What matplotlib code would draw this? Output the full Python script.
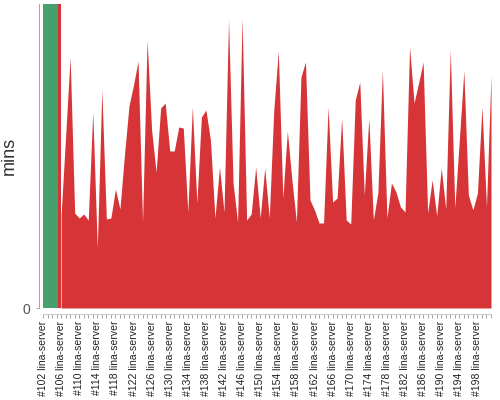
import numpy as np
import matplotlib.pyplot as plt

plt.rcParams['font.family'] = ['Liberation Sans', 'DejaVu Sans']

# build numbers and durations (mins)
builds = list(range(106, 202))
durations = [
    9.3, 17.2, 25.1, 9.5, 9.0, 9.4, 8.8, 19.6, 6.0, 21.8,
    8.9, 9.0, 11.9, 9.9, 15.3, 20.2, 22.3, 24.7, 8.6, 26.8,
    17.8, 13.6, 20.0, 20.5, 15.7, 15.7, 18.1, 18.0, 9.6, 20.1,
    10.5, 19.1, 19.8, 16.8, 9.0, 14.1, 9.6, 28.8, 12.5, 8.6,
    29.0, 8.8, 9.4, 14.1, 9.0, 14.0, 9.0, 19.8, 25.7, 11.0,
    17.7, 12.8, 8.6, 23.1, 24.6, 10.8, 9.8, 8.5, 8.5, 20.1,
    10.6, 11.0, 19.0, 8.8, 8.4, 20.8, 22.6, 11.3, 19.0, 8.8,
    11.5, 23.8, 9.0, 12.5, 11.6, 10.1, 9.6, 26.1, 20.5, 22.5,
    24.6, 9.5, 12.8, 9.2, 14.0, 9.9, 25.8, 10.0, 16.8, 23.7,
    11.3, 9.8, 11.5, 20.1, 10.1, 23.3,
]
y_max = 30.4

# leading spans that reach the top of the chart
success_span = [102, 105.3]
failed_span = [105.3, 106]

all_builds = list(range(102, 202))
tick_builds = list(range(102, 202, 4))
tick_labels = [f"#{b} lina-server" for b in tick_builds]

green = '#46a06e'
red = '#d63436'

fig = plt.figure(figsize=(5, 4), dpi=100)
ax = fig.add_axes([0.086, 0.23, 0.896, 0.76])

# spines first: moving them resets the ticks
for side in ['top', 'right']:
    ax.spines[side].set_visible(False)
ax.spines['left'].set_position(('outward', 3))
ax.spines['left'].set_color('#aaaaaa')
ax.spines['bottom'].set_position(('outward', 4))
ax.spines['bottom'].set_color('#cccccc')

ax.fill_between(success_span, [y_max, y_max], 0, color=green, lw=0)
ax.fill_between(failed_span, [y_max, y_max], 0, color=red, lw=0)
ax.fill_between(builds, durations, 0, color=red, lw=0)

ax.set_xlim(102, 201)
ax.set_ylim(0, y_max)

ax.set_yticks([0])
ax.set_yticklabels(["0"])
ax.set_xticks(tick_builds)
ax.set_xticklabels(tick_labels)
ax.set_xticks(all_builds, minor=True)

ax.tick_params(axis='x', which='both', length=3, width=0.6, color='#999999')
ax.tick_params(axis='x', which='major', labelsize=7.5, labelcolor='#222222',
               labelrotation=90, pad=2)
ax.tick_params(axis='y', length=2, width=0.6, color='#999999', pad=4,
               labelsize=10, labelcolor='#555555')

ax.set_ylabel("mins", fontsize=13, color='#333333')
ax.yaxis.set_label_coords(-0.056, 0.5)

fig.savefig("out.png", dpi=100)
